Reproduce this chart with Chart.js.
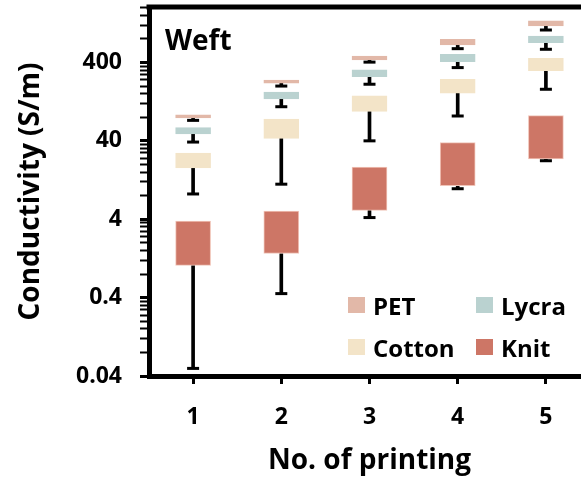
<!DOCTYPE html>
<html lang="en">
<head>
  <meta charset="UTF-8" />
  <title>Weft conductivity</title>
  <script src="https://cdn.jsdelivr.net/npm/chart.js"></script>
  <style>
    html, body { margin: 0; padding: 0; overflow: hidden; background: #fff; }
    .wrap { position: relative; width: 595px; height: 483px; }
    .legend {
      position: absolute; left: 348px; top: 290px;
      display: grid; grid-template-columns: 128px 100px; row-gap: 12px;
      font: bold 24px 'Open Sans', sans-serif; color: #000;
    }
    .legend div { display: flex; align-items: center; height: 30px; }
    .legend .sw { display: inline-block; width: 17px; height: 16px; margin-right: 8px; }
    /* the figure is cut at the right edge: keep that edge open */
    .edge { position: absolute; left: 573px; top: 11px; width: 22px; height: 361px; background: #fff; }
  </style>
</head>
<body>
  <div class="wrap">
    <canvas id="chart" width="595" height="483"></canvas>
    <div class="edge"></div>
    <div class="legend" id="legend"></div>
  </div>

  <script>
    const printings = ['1', '2', '3', '4', '5'];

    // box top / box bottom / lower whisker cap (S/m)
    const petHigh = [86, 239, 484, 789, 1362];
    const petLow = [78.6, 217, 431, 668, 1166];
    const petCap = [73, 200, 404, 600, 1038];

    const lycraHigh = [59, 167, 321, 508, 869];
    const lycraLow = [49, 137, 264, 410, 714];
    const lycraCap = [38.6, 109, 211, 344, 589];

    const cottonHigh = [28, 76, 150, 244, 452];
    const cottonLow = [18, 43, 95, 162, 315];
    const cottonCap = [8.4, 11.2, 40, 83, 182];

    const knitHigh = [3.8, 5.1, 18.5, 38, 84];
    const knitLow = [1.03, 1.46, 5.2, 10.7, 23.6];
    const knitCap = [0.05, 0.45, 4.2, 9.8, 22.3];

    const majorTicks = [0.04, 0.4, 4, 40, 400];
    const minorSteps = [2, 3, 4, 5, 6, 7, 8, 9];

    const series = [
      { label: 'PET', color: '#e2b8a8', edge: '#e2b8a8', high: petHigh, low: petLow, cap: petCap },
      { label: 'Lycra', color: '#bad2d0', edge: '#bad2d0', high: lycraHigh, low: lycraLow, cap: lycraCap },
      { label: 'Cotton', color: '#f3e4c8', edge: '#f3e4c8', high: cottonHigh, low: cottonLow, cap: cottonCap },
      { label: 'Knit', color: '#cd7666', edge: '#f0c4b8', high: knitHigh, low: knitLow, cap: knitCap }
    ];

    const FONT = "'Open Sans', sans-serif";
    const datasets = [];
    series.forEach(s => {
      datasets.push({
        type: 'bar', label: s.label,
        data: printings.map((_, i) => [s.low[i], s.high[i]]),
        backgroundColor: s.color, borderColor: s.edge, borderWidth: 1, borderSkipped: false,
        barThickness: 35, grouped: false, order: 1
      });
      datasets.push({
        type: 'bar', label: s.label + ' whisker',
        data: printings.map((_, i) => [s.cap[i], s.low[i]]),
        backgroundColor: '#000', barThickness: 3, grouped: false, order: 2
      });
      datasets.push({
        type: 'line', label: s.label + ' cap',
        data: s.cap, showLine: false,
        pointStyle: 'line', pointRadius: 6, pointHoverRadius: 6,
        pointBorderWidth: 3, pointBorderColor: '#000', order: 0
      });
    });

    // top frame line + panel label
    const frame = {
      id: 'frame',
      afterDraw(chart) {
        const { ctx, chartArea: a } = chart;
        ctx.save();
        ctx.strokeStyle = '#000';
        ctx.lineWidth = 5;
        ctx.beginPath();
        ctx.moveTo(a.left - 2.5, a.top);
        ctx.lineTo(a.right, a.top);
        ctx.stroke();
        ctx.fillStyle = '#000';
        ctx.font = 'bold 28px ' + FONT;
        ctx.textBaseline = 'alphabetic';
        ctx.fillText('Weft', a.left + 16, a.top + 43);
        ctx.restore();
      }
    };

    const isMajor = v => majorTicks.some(m => Math.abs(v - m) < m * 1e-6);

    new Chart(document.getElementById('chart'), {
      type: 'bar',
      data: { labels: printings, datasets },
      plugins: [frame],
      options: {
        responsive: false,
        animation: false,
        layout: { autoPadding: false, padding: { top: 7, right: 5, left: 0, bottom: 0 } },
        plugins: { legend: { display: false }, tooltip: { enabled: false } },
        scales: {
          x: {
            grid: { offset: false, drawOnChartArea: false, drawTicks: true, tickLength: 8, tickWidth: 3, color: '#000' },
            border: { display: true, width: 5, color: '#000' },
            ticks: { color: '#000', padding: 20, font: { family: FONT, weight: 'bold', size: 23 } },
            title: { display: true, text: 'No. of printing', color: '#000', padding: { top: 0, bottom: 5 },
                     font: { family: FONT, weight: 'bold', size: 28 } },
            afterFit(scale) {
              scale.height = 107;
              scale.paddingLeft = 0;
              scale.paddingRight = 0;
            }
          },
          y: {
            type: 'logarithmic',
            min: 0.04, max: 2040,
            afterBuildTicks(scale) {
              const t = [];
              majorTicks.forEach(m => {
                t.push({ value: m });
                minorSteps.forEach(k => { if (m * k <= scale.max) t.push({ value: m * k }); });
              });
              scale.ticks = t;
            },
            grid: {
              drawOnChartArea: false, drawTicks: true, tickLength: 9, color: '#000',
              tickWidth: c => (c.tick && isMajor(c.tick.value)) ? 3 : 2
            },
            border: { display: true, width: 5, color: '#000' },
            ticks: {
              autoSkip: false, color: '#000', padding: 18,
              font: { family: FONT, weight: 'bold', size: 23 },
              callback: v => isMajor(v) ? String(majorTicks.find(m => Math.abs(v - m) < m * 1e-6)) : ''
            },
            title: { display: true, text: 'Conductivity (S/m)', color: '#000', padding: { top: 14, bottom: 0 },
                     font: { family: FONT, weight: 'bold', size: 28 } },
            afterFit(scale) {
              scale.width = 149;
              scale.paddingTop = 0;
              scale.paddingBottom = 0;
            }
          }
        }
      }
    });

    const legend = document.getElementById('legend');
    series.forEach(s => {
      const item = document.createElement('div');
      item.innerHTML = '<span class="sw" style="background:' + s.color + '"></span>' + s.label;
      legend.appendChild(item);
    });
  </script>
</body>
</html>
